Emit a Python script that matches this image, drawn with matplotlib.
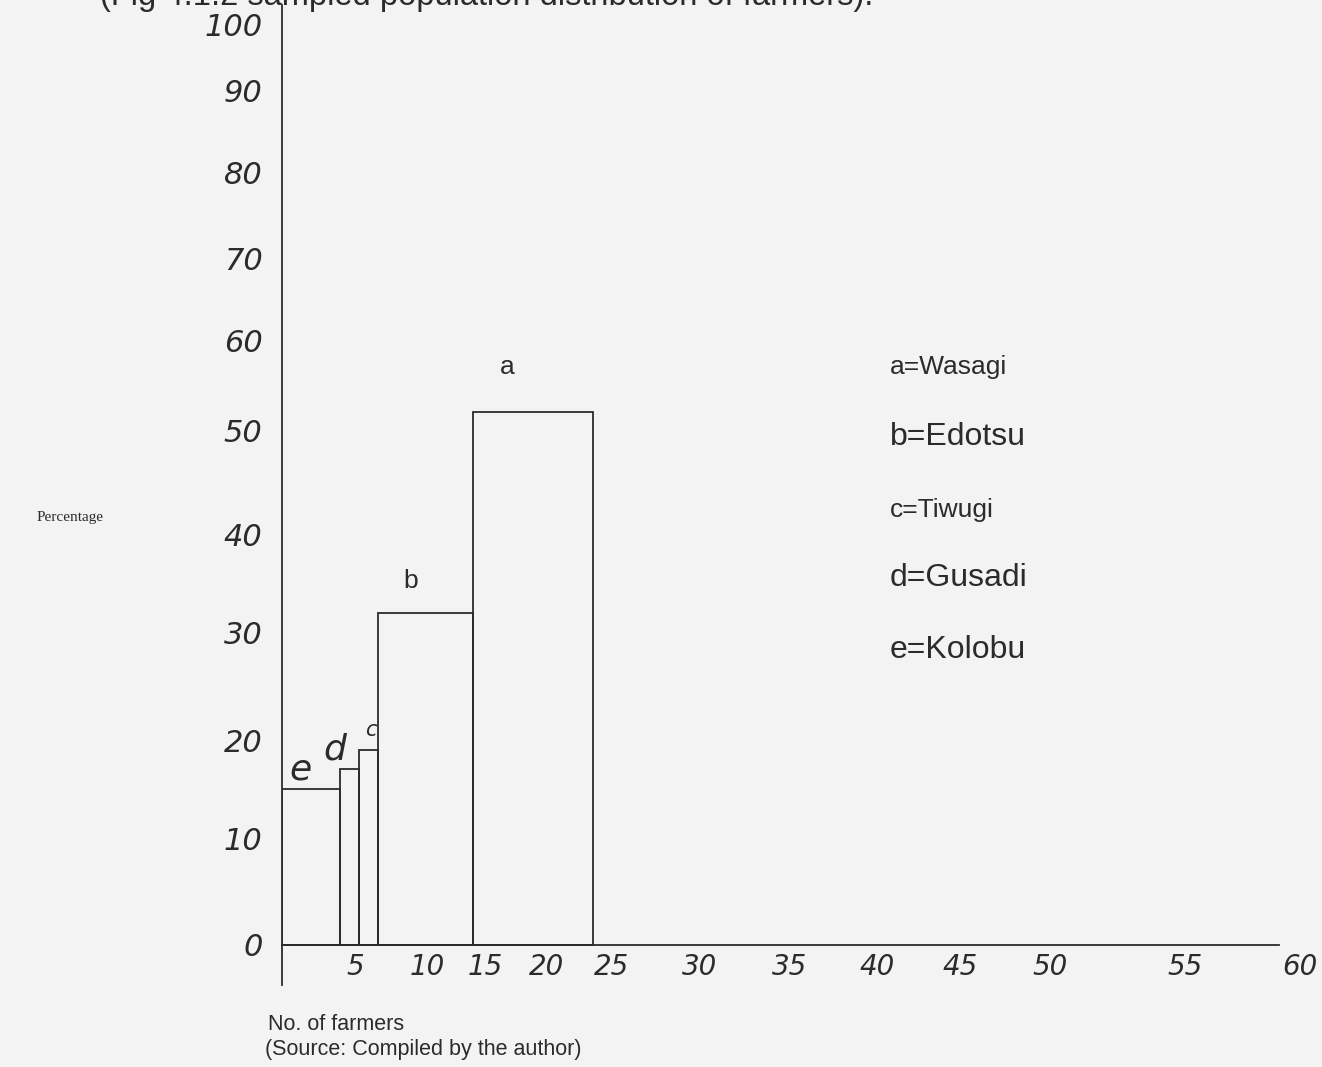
import numpy as np
import matplotlib.pyplot as plt

# Data (left to right)
codes = ['e', 'd', 'c', 'b', 'a']
villages = ['Kolobu', 'Gusadi', 'Tiwugi', 'Edotsu', 'Wasagi']
percent = [15, 17, 19, 32, 52]
farmer_edges = [0, 4, 5.3, 6.6, 14, 23.5]

x_ticks = [0, 5, 10, 15, 20, 25, 30, 35, 40, 45, 50, 55, 60]
y_ticks = [0, 10, 20, 30, 40, 50, 60, 70, 80, 90, 100]

# The paper axes are drawn by hand, so the tick spacing is uneven.
# Pixel distance of each hand-written tick from the origin.
x_px = [0, 73, 145, 203, 265, 330, 418, 508, 595, 678, 768, 903, 1018]
y_vals = [-4] + y_ticks + [102]
y_px = [-40, 0, 107, 205, 313, 410, 515, 605, 687, 772, 855, 920, 940]

ink = '#2b2b2b'
paper = '#f3f3f3'

fig = plt.figure(figsize=(13.22, 10.67), dpi=100, facecolor=paper)
W, H = 1322, 1067
ax = fig.add_axes([282 / W, 1 - 985 / H, (1300 - 282) / W, (985 - 5) / H])
ax.set_facecolor(paper)

ax.set_xscale('function', functions=(lambda v: np.interp(v, x_ticks, x_px),
                                     lambda p: np.interp(p, x_px, x_ticks)))
ax.set_yscale('function', functions=(lambda v: np.interp(v, y_vals, y_px),
                                     lambda p: np.interp(p, y_px, y_vals)))
ax.set_xlim(0, 60)
ax.set_ylim(-4, 102)

# bars
lefts = farmer_edges[:-1]
widths = np.diff(farmer_edges)
ax.bar(lefts, percent, width=widths, align='edge', fill=False,
       edgecolor=ink, linewidth=1.3)

# bar letters: a, b printed; c, d, e hand-written
label_off = {'e': (-11, 20, 26), 'd': (-15, 20, 26), 'c': (2, 20, 15),
             'b': (-20, 32, 19), 'a': (-24, 45, 19)}
for code, left, w, h in zip(codes, lefts, widths, percent):
    dx, dy, fs = label_off[code]
    if code in ('a', 'b'):
        kw = dict(family='Liberation Sans')
    else:
        kw = dict(family='DejaVu Sans', style='italic', weight='light')
    ax.annotate(code, xy=(left + w / 2, h), xytext=(dx, dy),
                textcoords='offset pixels', ha='center', va='center',
                fontsize=fs, color=ink, **kw)

# axes styling
for s in ['top', 'right']:
    ax.spines[s].set_visible(False)
ax.spines['bottom'].set_position(('data', 0))
ax.spines['bottom'].set_bounds(0, 59.1)
ax.spines['left'].set_color(ink)
ax.spines['bottom'].set_color(ink)
ax.spines['left'].set_linewidth(1.3)
ax.spines['bottom'].set_linewidth(1.3)

ax.set_xticks(x_ticks[1:])
ax.set_xticklabels([str(t) for t in x_ticks[1:]])
ax.set_yticks(y_ticks)
ax.set_yticklabels([str(t) for t in y_ticks])
ax.tick_params(axis='both', length=0, colors=ink)
ax.tick_params(axis='y', pad=14, labelsize=22)
ax.tick_params(axis='x', pad=6, labelsize=20)
for lab in ax.get_xticklabels() + ax.get_yticklabels():
    lab.set_fontstyle('italic')
    lab.set_fontweight('light')

# key
legend_y = [367, 437, 510, 578, 650]
legend_fs = [19, 23, 19, 23, 23]
for i, (code, name) in enumerate(zip(codes[::-1], villages[::-1])):
    fig.text(890 / W, 1 - legend_y[i] / H, f'{code}={name}',
             fontsize=legend_fs[i], family='Liberation Sans', color=ink,
             ha='left', va='center')

fig.text(37 / W, 1 - 517 / H, 'Percentage', fontsize=11,
         family='Liberation Serif', color=ink, ha='left', va='center')
fig.text(268 / W, 1 - 1025 / H, 'No. of farmers', fontsize=15.5,
         family='Liberation Sans', color=ink, ha='left', va='center')
fig.text(265 / W, 1 - 1050 / H, '(Source: Compiled by the author)',
         fontsize=15.5, family='Liberation Sans', color=ink,
         ha='left', va='center')
fig.text(100 / W, 1 - 5 / H,
         '(Fig 4.1.2 sampled population distribution of farmers).',
         fontsize=23.5, family='Liberation Sans', color=ink,
         ha='left', va='baseline')

fig.savefig('out.png', dpi=100, facecolor=paper)
